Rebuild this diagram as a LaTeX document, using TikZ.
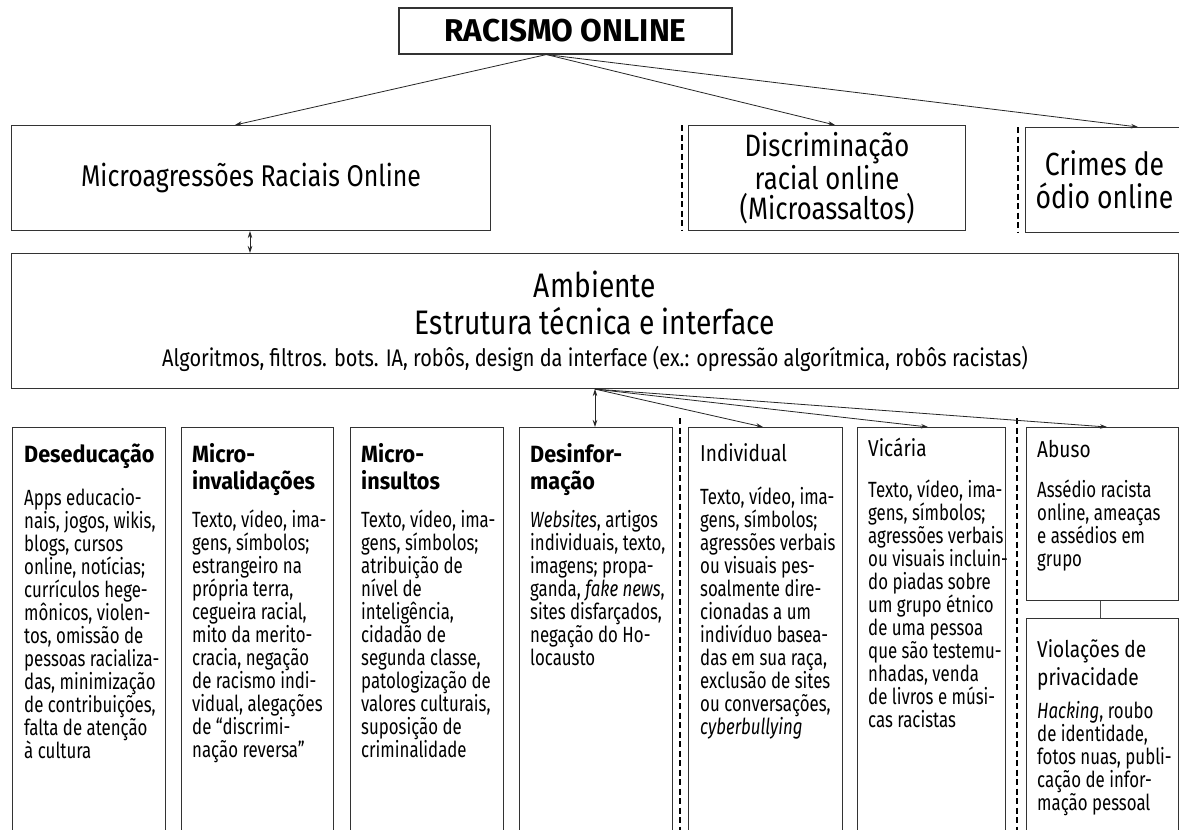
\documentclass[tikz,border=0pt]{standalone}
\usepackage{fontspec}
\setmainfont{Fira Sans}[FakeStretch=0.83]
\newfontfamily\hfont{Fira Sans}[FakeStretch=0.92]
\newfontfamily\tfont{Fira Sans}[FakeStretch=1.0]
\newfontfamily\bodyfont{Fira Sans}[FakeStretch=0.765]
\usetikzlibrary{arrows.meta,calc}
\tikzset{
  box/.style={draw=black!80, line width=1.1pt, inner sep=0pt, anchor=north west},
  conn/.style={draw=black!85, line width=0.8pt, -{Stealth[length=7pt,width=4.5pt]}},
  dconn/.style={draw=black!85, line width=0.8pt, {Stealth[length=7pt,width=4.5pt]}-{Stealth[length=7pt,width=4.5pt]}},
  plainconn/.style={draw=black!70, line width=0.8pt},
  sepline/.style={line width=2pt, dash pattern=on 6pt off 3.5pt},
  hdr/.style={anchor=base west, inner sep=0pt, font=\hfont\bfseries\fontsize{23.5}{27}\selectfont},
  hdrr/.style={anchor=base west, inner sep=0pt, font=\fontsize{23}{28}\selectfont},
  body/.style={anchor=base west, inner sep=0pt, font=\bodyfont\fontsize{22}{23}\selectfont},
}
\newcommand{\pb}[1]{\parbox[t]{170pt}{\raggedright #1}}
\begin{document}
\begin{tikzpicture}[x=1pt,y=-1pt]
\useasboundingbox (0,0) rectangle (1179,830);
\clip (0,0) rectangle (1179,830);
\fill[white] (0,0) rectangle (1179,830);

% title
\node[box, anchor=center, minimum width=333pt, minimum height=46pt] (title) at (565.5,31)
  {\tfont\bfseries\fontsize{31.5}{31.5}\selectfont RACISMO ONLINE};
\coordinate (tsrc) at ($(title.south west)+(148,0)$);

% top row
\node[box, minimum width=479pt, minimum height=105pt, font=\fontsize{30}{33}\selectfont] (micro) at (11,125)
  {Microagressões Raciais Online};
\node[box, minimum width=277pt, minimum height=105pt, align=center, font=\fontsize{31}{30}\selectfont] (disc) at (688,125)
  {Discriminação\\racial online\\(Microassaltos)};
\node[box, minimum width=158pt, minimum height=105pt, align=center, font=\fontsize{32}{33}\selectfont] (crimes) at (1025,127)
  {Crimes de\\ódio online};

\draw[sepline] ($(disc.north west)+(-6,0)$) -- ($(disc.south west)+(-6,0)$);
\draw[sepline] ($(crimes.north west)+(-7,0)$) -- ($(crimes.south west)+(-7,0)$);

\draw[conn] (tsrc) -- ($(micro.north west)+(224,0)$);
\draw[conn] (tsrc) -- ($(disc.north west)+(147,0)$);
\draw[conn] (tsrc) -- ($(crimes.north west)+(113,0)$);

% ambiente
\node[box, minimum width=1167pt, minimum height=135pt] (amb) at (11,253) {};
\node[anchor=base, inner sep=0pt, font=\fontsize{34}{34}\selectfont] (amb1) at (595,297) {Ambiente};
\node[anchor=base, inner sep=0pt, font=\fontsize{34}{34}\selectfont] (amb2) at (595,334) {Estrutura técnica e interface};
\node[anchor=base, inner sep=0pt, font=\fontsize{24}{24}\selectfont] (amb3) at (595,366)
  {Algoritmos, filtros. bots. IA, robôs, design da interface (ex.: opressão algorítmica, robôs racistas)};

\draw[dconn] ($(micro.south west)+(239,0)$) -- ($(amb.north west)+(239,0)$);

% bottom columns
\node[box, minimum width=153pt, minimum height=440pt] (c1) at (12,427) {};
\node[box, minimum width=152pt, minimum height=440pt] (c2) at (181,427) {};
\node[box, minimum width=153pt, minimum height=440pt] (c3) at (350,427) {};
\node[box, minimum width=153pt, minimum height=440pt] (c4) at (519,427) {};
\node[box, minimum width=154pt, minimum height=440pt] (c5) at (688,427) {};
\node[box, minimum width=148pt, minimum height=440pt] (c6) at (857,427) {};
\node[box, minimum width=152pt, minimum height=173pt] (c7) at (1026,427) {};
\node[box, minimum width=152pt, minimum height=240pt] (c8) at (1026,618) {};

\draw[sepline] (680,418) -- (680,835);
\draw[sepline] (1017,418) -- (1017,835);

\coordinate (asrc) at ($(amb.south west)+(584,0)$);
\draw[dconn] (asrc) -- ($(c4.north west)+(76,0)$);
\draw[conn] (asrc) -- ($(c5.north west)+(75,0)$);
\draw[conn] (asrc) -- ($(c6.north west)+(71,0)$);
\draw[conn] (asrc) -- ($(c7.north west)+(81,0)$);
\draw[plainconn] ($(c7.south west)+(74,0)$) -- ($(c8.north west)+(74,0)$);

% column texts
\node[hdr] (h1) at (24,462) {\pb{Deseducação}};
\node[body] (b1) at (24,505) {\pb{Apps educacio-\\nais, jogos, wikis,\\blogs, cursos\\online, notícias;\\currículos hege-\\mônicos, violen-\\tos, omissão de\\pessoas racializa-\\das, minimização\\de contribuições,\\falta de atenção\\à cultura}};

\node[hdr] (h2) at (192,462) {\pb{Micro-\\invalidações}};
\node[body] (b2) at (192,527) {\pb{Texto, vídeo, ima-\\gens, símbolos;\\estrangeiro na\\própria terra,\\cegueira racial,\\mito da merito-\\cracia, negação\\de racismo indi-\\vidual, alegações\\de “discrimi-\\nação reversa”}};

\node[hdr] (h3) at (361,462) {\pb{Micro-\\insultos}};
\node[body] (b3) at (361,527) {\pb{Texto, vídeo, ima-\\gens, símbolos;\\atribuição de\\nível de\\inteligência,\\cidadão de\\segunda classe,\\patologização de\\valores culturais,\\suposição de\\criminalidade}};

\node[hdr] (h4) at (530,462) {\pb{Desinfor-\\mação}};
\node[body] (b4) at (530,527) {\pb{\textit{Websites}, artigos\\individuais, texto,\\imagens; propa-\\ganda, \textit{fake news},\\sites disfarçados,\\negação do Ho-\\locausto}};

\node[hdrr] (h5) at (700,461) {\pb{Individual}};
\node[body] (b5) at (700,504) {\pb{Texto, vídeo, ima-\\gens, símbolos;\\agressões verbais\\ou visuais pes-\\soalmente dire-\\cionadas a um\\indivíduo basea-\\das em sua raça,\\exclusão de sites\\ou conversações,\\\textit{cyberbullying}}};

\node[hdrr] (h6) at (868,456) {\pb{Vicária}};
\node[body] (b6) at (868,497) {\pb{Texto, vídeo, ima-\\gens, símbolos;\\agressões verbais\\ou visuais incluin-\\do piadas sobre\\um grupo étnico\\de uma pessoa\\que são testemu-\\nhadas, venda\\de livros e músi-\\cas racistas}};

\node[hdrr] (h7) at (1037,457) {\pb{Abuso}};
\node[body] (b7) at (1037,497) {\pb{Assédio racista\\online, ameaças\\e assédios em\\grupo}};

\node[hdrr] (h8) at (1037,657) {\pb{Violações de\\privacidade}};
\node[body] (b8) at (1037,718) {\pb{\textit{Hacking}, roubo\\de identidade,\\fotos nuas, publi-\\cação de infor-\\mação pessoal}};
\end{tikzpicture}
\end{document}
